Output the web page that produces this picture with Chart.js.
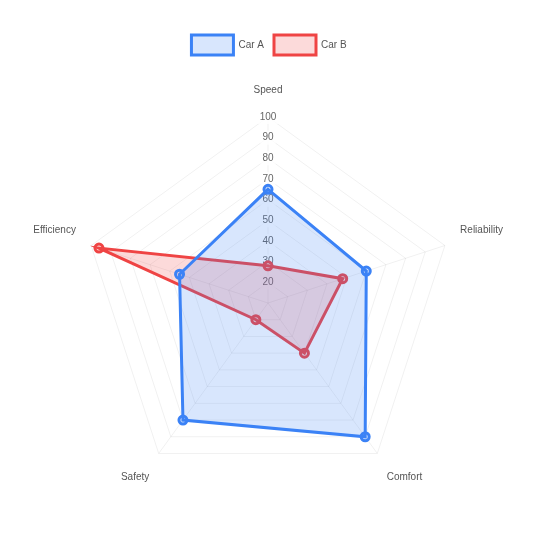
<!DOCTYPE html>
<html>
<head>
<meta charset="utf-8">
<script src="https://cdn.jsdelivr.net/npm/chart.js@4/dist/chart.umd.min.js"></script>
<style>
  html, body { margin: 0; padding: 0; background: #fff; }
  #wrap { width: 538px; height: 538px; position: relative; }
</style>
</head>
<body>
<div id="wrap"><canvas id="c"></canvas></div>
<script>
const categories = ['Speed', 'Reliability', 'Comfort', 'Safety', 'Efficiency'];
const carA = [65, 60, 90, 80, 55];
const carB = [28, 48, 40, 20, 96];
const seriesNames = ['Car A', 'Car B'];
const tickMin = 10, tickMax = 100, tickStep = 10;

Chart.defaults.font.family = '"Liberation Sans", Arial, Helvetica, sans-serif';
Chart.defaults.color = '#666';

new Chart(document.getElementById('c'), {
  type: 'radar',
  data: {
    labels: categories,
    datasets: [
      {
        label: seriesNames[0],
        data: carA,
        borderColor: 'rgb(59,130,246)',
        backgroundColor: 'rgba(59,130,246,0.2)',
        pointBackgroundColor: 'rgba(59,130,246,0.2)',
        pointBorderColor: 'rgb(59,130,246)',
        borderWidth: 3,
        pointRadius: 4,
        pointBorderWidth: 3
      },
      {
        label: seriesNames[1],
        data: carB,
        borderColor: 'rgb(239,68,68)',
        backgroundColor: 'rgba(239,68,68,0.2)',
        pointBackgroundColor: 'rgba(239,68,68,0.2)',
        pointBorderColor: 'rgb(239,68,68)',
        borderWidth: 3,
        pointRadius: 4,
        pointBorderWidth: 3
      }
    ]
  },
  options: {
    responsive: true,
    maintainAspectRatio: false,
    animation: false,
    layout: { padding: { top: 25, bottom: 27, left: 20, right: 20 } },
    plugins: {
      legend: {
        position: 'top',
        labels: { boxWidth: 42, boxHeight: 20, color: '#555', font: { size: 10 } }
      },
      tooltip: { enabled: false }
    },
    scales: {
      r: {
        min: tickMin,
        max: tickMax,
        ticks: { stepSize: tickStep, color: '#666', font: { size: 10 } },
        grid: { color: 'rgba(0,0,0,0.06)' },
        angleLines: { color: 'rgba(0,0,0,0.06)' },
        pointLabels: { color: '#555', padding: 9, font: { size: 10, lineHeight: 2.1 } }
      }
    }
  }
});
</script>
</body>
</html>
